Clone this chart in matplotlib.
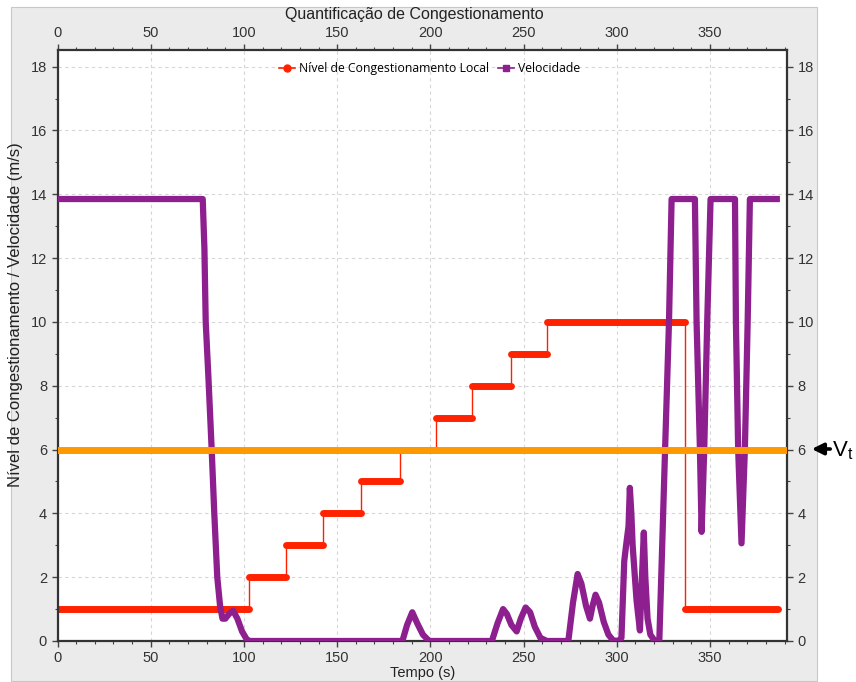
import matplotlib
matplotlib.use("Agg")
import matplotlib.pyplot as plt
import matplotlib.patches as patches
from matplotlib.lines import Line2D
from matplotlib.ticker import MultipleLocator

# Nivel de congestionamento local (degraus): inicio de cada degrau e nivel
step_start = [0, 102.5, 122.5, 142.5, 163, 183.5, 203, 222.5, 243, 262.5, 336.5]
step_level = [1, 2, 3, 4, 5, 6, 7, 8, 9, 10, 1]
step_end = 386.5

# Velocidade (m/s)
vel_t = [0, 77.9, 78.8, 79.5, 81, 82.7, 84.1, 85.7, 87.2, 88.5, 90, 92, 94.2, 96.5, 99, 101.5, 103,
         185, 187.5, 190.3, 193, 196, 199, 200,
         233, 236, 239, 241, 243.5, 246.3, 248.5, 251.1, 253.5, 256, 259, 262.5,
         274, 276.5, 279, 281, 283.5, 285.6, 287, 288.6, 290.5, 293, 295.5, 298, 300.8,
         302.5, 304, 305, 306.3, 307, 307.8, 308.5, 310.6, 312.4, 313.5, 314.5, 315.3,
         316.5, 318, 320.4, 322.8,
         324.1, 325.9, 328, 329.4, 341.9, 342.8, 344.6, 345.5, 346.9, 348.5, 350.3,
         363.4, 363.9, 365.1, 366.9, 368.7, 370.2, 371.4, 387.5]
vel_v = [13.85, 13.85, 12.3, 10.0, 8.2, 6.0, 4.0, 2.0, 1.1, 0.7, 0.7, 0.85, 0.95, 0.7, 0.3, 0.05, 0,
         0, 0.5, 0.9, 0.55, 0.2, 0.02, 0,
         0, 0.55, 1.0, 0.85, 0.5, 0.3, 0.7, 1.05, 0.9, 0.45, 0.1, 0,
         0, 1.2, 2.1, 1.8, 1.1, 0.7, 1.1, 1.45, 1.2, 0.6, 0.2, 0.02, 0,
         0.1, 2.5, 3.0, 3.6, 4.8, 4.0, 3.0, 1.27, 0.33, 2.0, 3.4, 2.0,
         0.7, 0.2, 0.0, 0,
         2.5, 6.0, 10.0, 13.85, 13.85, 10.0, 6.0, 3.42, 6.0, 10.0, 13.85,
         13.85, 10.0, 6.0, 3.06, 6.0, 10.0, 13.85, 13.85]

v_limiar = 6

red = '#ff2200'
purple = '#8e1f8e'
orange = '#ff9900'

fig = plt.figure(figsize=(8.56, 6.82), dpi=100)
fig.patch.set_facecolor('white')
fig.patches.append(patches.Rectangle((11 / 856, 1 - 681 / 682), 806 / 856, 674 / 682,
                                     transform=fig.transFigure, facecolor='#ebebeb',
                                     edgecolor='#c8c8c8', lw=0.8, zorder=-10))

ax = fig.add_axes([57.5 / 856, 1 - 641 / 682, 729.5 / 856, 591 / 682])
ax.set_facecolor('white')

# degraus: linha fina de ligacao + segmentos grossos
ax.plot(step_start + [step_end], step_level + [step_level[-1]], drawstyle='steps-post',
        color=red, lw=1, zorder=2)
segs = ax.hlines(step_level, step_start, step_start[1:] + [step_end], color=red, lw=5, zorder=2)
segs.set_capstyle('round')

ax.plot(vel_t, vel_v, color=purple, lw=4.5, solid_joinstyle='round', solid_capstyle='butt', zorder=3)
ax.axhline(v_limiar, color=orange, lw=5, zorder=4)

ax.set_xlim(0, 391.3)
ax.set_ylim(0, 18.52)
ax.xaxis.set_major_locator(MultipleLocator(50))
ax.xaxis.set_minor_locator(MultipleLocator(10))
ax.yaxis.set_major_locator(MultipleLocator(2))
ax.yaxis.set_minor_locator(MultipleLocator(1))
ax.grid(True, which='major', color='#d6d6d6', ls=(0, (3, 3)), lw=0.8, zorder=0)

for spine in ax.spines.values():
    spine.set_linewidth(1.6)
    spine.set_color('#333333')
ax.tick_params(which='both', direction='out', color='#444444', labelcolor='#333333',
               top=True, right=True, labeltop=True, labelright=True, labelsize=10.5)
ax.tick_params(which='major', length=4, width=1)
ax.tick_params(which='minor', length=2.5, width=0.8)
ax.tick_params(axis='x', which='major', labeltop=True, pad=3)
for lab in ax.get_xticklabels() + ax.get_yticklabels():
    lab.set_family('Liberation Sans')

ax.set_xlabel('Tempo (s)', fontsize=10.5, family='Liberation Sans', color='#222222', labelpad=1)
ax.set_ylabel('Nível de Congestionamento / Velocidade (m/s)', fontsize=12, family='Liberation Sans',
              color='#222222', labelpad=4)
ax.yaxis.set_label_coords(-0.047, 0.552)
fig.text(414 / 856, 1 - 15 / 682, 'Quantificação de Congestionamento', ha='center', va='center',
         fontsize=11.5, family='Liberation Sans', color='#222222')

handles = [Line2D([], [], color=red, marker='o', ms=5, lw=1.2),
           Line2D([], [], color=purple, marker='s', ms=5, lw=1.2)]
ax.legend(handles, ['Nível de Congestionamento Local', 'Velocidade'], loc='center',
          bbox_to_anchor=(0.51, 0.968), ncol=2, frameon=False, handlelength=1.3,
          handletextpad=0.3, columnspacing=0.8, prop=dict(family='Open Sans', size=8.8))

# V_t fora do grafico
ax.annotate('', xy=(809, 682 - 449), xytext=(833, 682 - 449), xycoords='figure pixels',
            textcoords='figure pixels',
            arrowprops=dict(arrowstyle='-|>', color='black', lw=2.6, mutation_scale=17))
fig.text(832 / 856, 1 - 451 / 682, r'V$_\mathregular{t}$', ha='left', va='center', fontsize=16,
         family='Liberation Sans', color='black')

fig.savefig('out.png', dpi=100)
